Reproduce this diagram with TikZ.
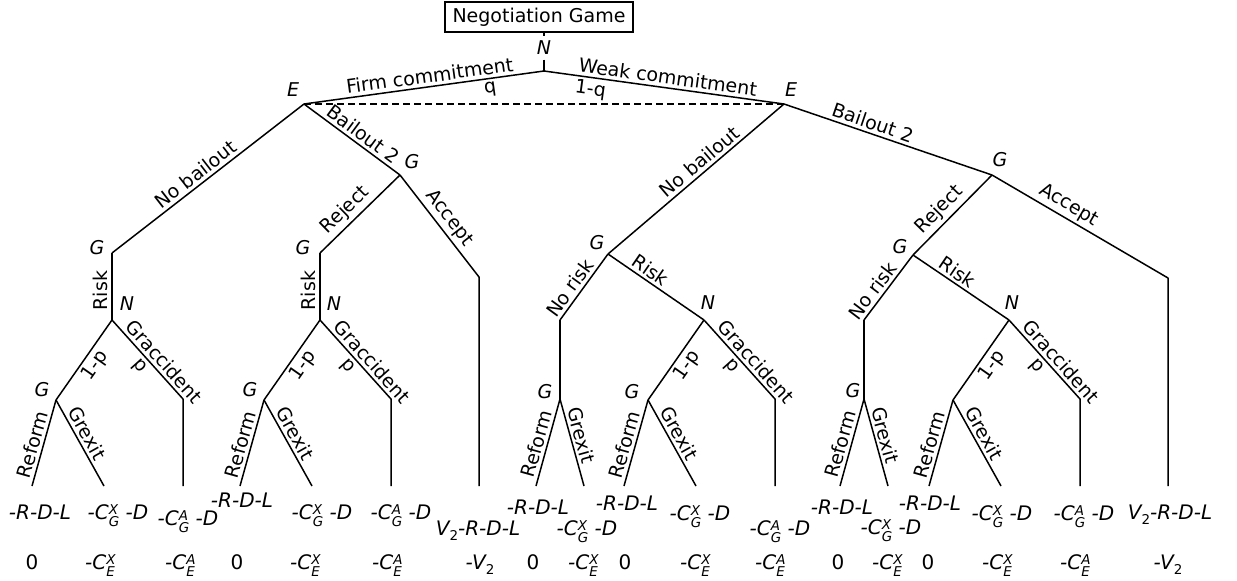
\documentclass[tikz,border=0pt]{standalone}
\usepackage{fontspec}
\setmainfont{DejaVu Sans}
% stacked super/subscript after a symbol
\newcommand\sps[2]{{\fontsize{13.5}{13.5}\selectfont\rlap{\raisebox{5pt}{#1}}\raisebox{-7pt}{#2}}}
\newcommand\vtwo{V\raisebox{-5pt}{\fontsize{13.5}{13.5}\selectfont\upshape 2}}
\newcommand\cgd[1]{-C\sps{#1}{G} -D}
\newcommand\ce[1]{-C\sps{#1}{E}}
\newcommand\rdl{-R-D-L}
% chance node with its two branches: 1-p to a Reform/Grexit choice, p to Graccident
\newcommand\chancetree[2]{%
  \begin{scope}[shift={#2}]
    \coordinate (#1N) at (0,0);
    \coordinate (#1G) at (-56,80);
    \coordinate (#1T) at (71,79);
    \coordinate (#1R) at (-80,166);
    \coordinate (#1X) at (-8,166);
    \coordinate (#1L) at (71,166);
    \draw[edge] (#1N) -- node[lab,below,pos=0.48]{1-p} (#1G);
    \draw[edge] (#1N) -- node[lab,above,pos=0.62]{Graccident} node[lab,below,pos=0.5]{p} (#1T) -- (#1L);
    \draw[edge] (#1R) -- node[lab,above,pos=0.45]{Reform} (#1G);
    \draw[edge] (#1G) -- node[lab,above,pos=0.45]{Grexit} (#1X);
  \end{scope}}
% no-risk branch: straight down to a Reform/Grexit choice
\newcommand\noriskbranch[2]{%
  \begin{scope}[shift={#2}]
    \coordinate (#1top) at (0,0);
    \coordinate (#1G) at (0,79);
    \coordinate (#1R) at (-24,166);
    \coordinate (#1X) at (24,166);
    \draw[edge] (#1top) -- (#1G);
    \draw[edge] (#1R) -- node[lab,above,pos=0.45]{Reform} (#1G);
    \draw[edge] (#1G) -- node[lab,above,pos=0.45]{Grexit} (#1X);
  \end{scope}}
\begin{document}
\begin{tikzpicture}[x=1pt,y=-1pt,
  edge/.style={line width=1.5pt, line join=round},
  lab/.style={font=\fontsize{19}{22}\selectfont, inner sep=3pt, sloped},
  pl/.style={font=\fontsize{19}{22}\selectfont\itshape, inner sep=0pt},
  pay/.style={font=\fontsize{20}{23}\selectfont\itshape, anchor=base, inner sep=0pt},
]
\useasboundingbox (0,0) rectangle (1237,581);

% title and root
\node[draw, line width=1.3pt, minimum width=188pt, minimum height=30pt, inner sep=0pt,
      font=\fontsize{19}{22}\selectfont] (title) at (539,17) {Negotiation Game};
\coordinate (root) at (544,71);
\node[pl, inner sep=4.5pt] (Nroot) at (544,48) {N};
\draw[edge] (title.south -| root) -- (Nroot.north);
\draw[edge] (Nroot.south) -- (root);

% first moves
\coordinate (EL) at (304,104);
\coordinate (ER) at (784,104);
\draw[edge] (root) -- node[lab,above,pos=0.47]{Firm commitment} node[lab,below,pos=0.23]{q} (EL);
\draw[edge] (root) -- node[lab,above,pos=0.51]{Weak commitment} node[lab,below,pos=0.2]{1-q} (ER);
\draw[line width=1.2pt, dash pattern=on 7pt off 4pt] (EL) -- (ER);
\node[pl] (lEL) at (293,90) {E};
\node[pl] (lER) at (791,90) {E};

% ---- firm commitment side
\coordinate (GL1) at (112,253);
\coordinate (GB1) at (400,175);
\coordinate (GR1) at (320,253);
\coordinate (AL1) at (479,277);
\coordinate (LA1) at (479,486);
\coordinate (NL1) at (112,320);
\coordinate (NL2) at (320,320);
\draw[edge] (EL) -- node[lab,above,pos=0.53]{No bailout} (GL1);
\draw[edge] (EL) -- node[lab,above,pos=0.55]{Bailout 2} (GB1);
\draw[edge] (GB1) -- node[lab,above,pos=0.57]{Reject} (GR1);
\draw[edge] (GB1) -- node[lab,above,pos=0.5]{Accept} (AL1) -- (LA1);
\draw[edge] (NL1) -- node[lab,above,pos=0.44]{Risk} (GL1);
\draw[edge] (NL2) -- node[lab,above,pos=0.44]{Risk} (GR1);
\chancetree{a}{(112,320)}
\chancetree{b}{(320,320)}
\node[pl] (lGL1) at (97,248) {G};
\node[pl] (lGB1) at (412,162) {G};
\node[pl] (lGR1) at (303,248) {G};
\node[pl] (lNL1) at (127,304) {N};
\node[pl] (lNL2) at (334,304) {N};
\node[pl] (laG) at (42,390) {G};
\node[pl] (lbG) at (250,390) {G};

% ---- weak commitment side
\coordinate (GM) at (608,254);
\coordinate (NRM) at (560,320);
\coordinate (NM) at (704,320);
\coordinate (GBR) at (992,175);
\coordinate (AR) at (1168,278);
\coordinate (LAR) at (1168,486);
\coordinate (GRR) at (913,255);
\coordinate (NRR) at (864,320);
\coordinate (NR) at (1009,320);
\draw[edge] (ER) -- node[lab,above,pos=0.44]{No bailout} (GM);
\draw[edge] (NRM) -- node[lab,above,pos=0.39]{No risk} (GM);
\draw[edge] (GM) -- node[lab,above,pos=0.38]{Risk} (NM);
\draw[edge] (ER) -- node[lab,above,pos=0.41]{Bailout 2} (GBR);
\draw[edge] (GBR) -- node[lab,above,pos=0.4]{Accept} (AR) -- (LAR);
\draw[edge] (GBR) -- node[lab,above,pos=0.55]{Reject} (GRR);
\draw[edge] (NRR) -- node[lab,above,pos=0.35]{No risk} (GRR);
\draw[edge] (GRR) -- node[lab,above,pos=0.4]{Risk} (NR);
\noriskbranch{m}{(560,320)}
\chancetree{c}{(704,320)}
\noriskbranch{r}{(864,320)}
\chancetree{d}{(1009,320)}
\node[pl] (lGM) at (597,243) {G};
\node[pl] (lNM) at (708,303) {N};
\node[pl] (lmG) at (545,392) {G};
\node[pl] (lcG) at (632,392) {G};
\node[pl] (lGBR) at (1000,160) {G};
\node[pl] (lGRR) at (900,247) {G};
\node[pl] (lNR) at (1012,303) {N};
\node[pl] (lrG) at (853,391) {G};

% ---- payoffs
\foreach \n/\x/\y/\t in {
  1/40/519/{\rdl}, 2/118/519/{\cgd{X}}, 3/188/525/{\cgd{A}},
  4/242/507/{\rdl}, 5/322/519/{\cgd{X}}, 6/401/519/{\cgd{A}},
  7/478/535/{\vtwo-R-D-L}, 8/538/514/{\rdl}, 9/587/535/{\cgd{X}},
  10/627/510/{\rdl}, 11/700/520/{\cgd{X}}, 12/780/535/{\cgd{A}},
  13/842/514/{\rdl}, 14/891/534/{\cgd{X}}, 15/930/510/{\rdl},
  16/1002/520/{\cgd{X}}, 17/1084/520/{\cgd{A}}, 18/1170/519/{\vtwo-R-D-L}}
  \node[pay] (g\n) at (\x,\y) {\t};
\foreach \n/\x/\t in {
  1/32/{\upshape 0}, 2/100/{\ce{X}}, 3/180/{\ce{A}}, 4/237/{\upshape 0},
  5/305/{\ce{X}}, 6/387/{\ce{A}}, 7/480/{-\vtwo}, 8/533/{\upshape 0},
  9/583/{\ce{X}}, 10/625/{\upshape 0}, 11/695/{\ce{X}}, 12/770/{\ce{A}},
  13/838/{\upshape 0}, 14/887/{\ce{X}}, 15/928/{\upshape 0}, 16/997/{\ce{X}},
  17/1075/{\ce{A}}, 18/1168/{-\vtwo}}
  \node[pay] (e\n) at (\x,569) {\t};
\end{tikzpicture}
\end{document}
